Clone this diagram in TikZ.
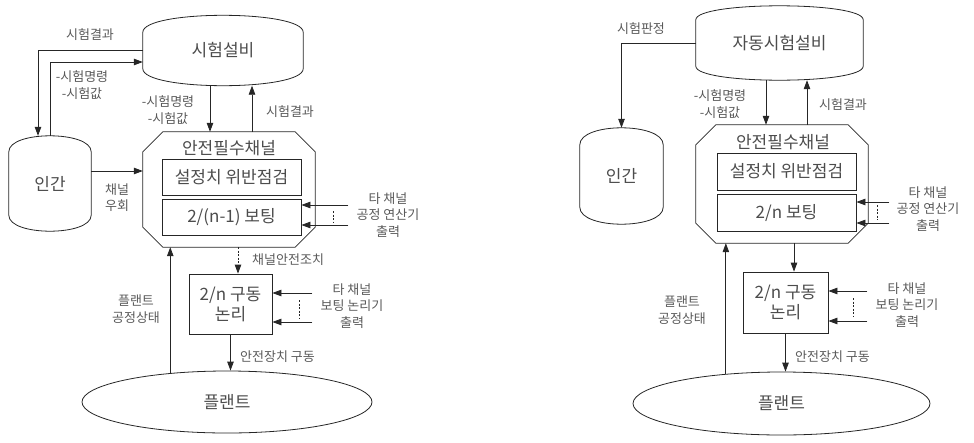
\documentclass[tikz,border=0pt]{standalone}
\usepackage{fontspec}
\setmainfont{Noto Sans CJK KR}
\usetikzlibrary{arrows.meta}
\usetikzlibrary{shapes.geometric}

\newcommand\bigtext{\fontsize{17}{20}\selectfont}
\newcommand\smalltext{\fontsize{13}{16.5}\selectfont}
% outline of a drum: straight sides, bulging top and bottom
\newcommand\drumline[2]{%
  \draw[line] ([yshift=-#2pt]#1.north west) .. controls ([yshift={#2pt/3}]#1.north west) and ([yshift={#2pt/3}]#1.north east) .. ([yshift=-#2pt]#1.north east)
    -- ([yshift=#2pt]#1.south east) .. controls ([yshift={-#2pt/3}]#1.south east) and ([yshift={-#2pt/3}]#1.south west) .. ([yshift=#2pt]#1.south west) -- cycle;}
% outline of the channel: box with cut corners
\newcommand\octline[2]{%
  \draw[line] ([xshift=#2pt]#1.north west) -- ([xshift=-#2pt]#1.north east) -- ([yshift=-#2pt]#1.north east)
    -- ([yshift=#2pt]#1.south east) -- ([xshift=-#2pt]#1.south east) -- ([xshift=#2pt]#1.south west)
    -- ([yshift=#2pt]#1.south west) -- ([yshift=-#2pt]#1.north west) -- cycle;}

\tikzset{
  line/.style={draw=black!85, line width=0.8pt},
  arr/.style={line, -{Triangle[length=9pt,width=6.5pt]}},
  dots/.style={line, dash pattern=on 2pt off 1.5pt},
  box/.style={line, rectangle, inner sep=0pt, text=black!70, font=\bigtext, align=center},
  drum/.style={rectangle, inner sep=0pt, text=black!70, font=\bigtext},
  chanbox/.style={rectangle, inner sep=0pt},
  plantshape/.style={line, ellipse, inner sep=0pt, text=black!70, font=\bigtext},
  lbl/.style={text=black!65, font=\smalltext, align=center, inner sep=0pt},
}

\begin{document}
\begin{tikzpicture}[x=1pt,y=-1pt]
\useasboundingbox (0,0) rectangle (974,442);

% left: manual test
\node[drum, minimum width=160pt, minimum height=70pt] (eq) at (223,50.5) {시험설비};
\node[drum, minimum width=82pt, minimum height=95pt] (human) at (50,183.5) {인간};
\node[chanbox, minimum width=172pt, minimum height=115pt] (chan) at (229,189.5) {};
\node[lbl, font=\bigtext, text=black!70] (chanlbl) at (229,148) {안전필수채널};
\node[box, minimum width=139pt, minimum height=36pt] (check) at (231.5,177) {설정치 위반점검};
\node[box, minimum width=139pt, minimum height=36pt] (vote) at (231.5,217) {2/(n-1) 보팅};
\node[box, minimum width=83pt, minimum height=60pt] (act) at (230.5,304) {2/n 구동\\논리};
\node[plantshape, minimum width=290pt, minimum height=62pt] (plant) at (227,402) {플랜트};
\drumline{eq}{17}
\drumline{human}{16}
\octline{chan}{20}

\node[lbl] (lres) at (90,35) {시험결과};
\node[lbl] (lcmd) at (82,85) {-시험명령\\-시험값};
\node[lbl] (ldn) at (168,110) {-시험명령\\-시험값};
\node[lbl] (lup) at (290,112) {시험결과};
\node[lbl] (lbyp) at (117,197.5) {채널\\우회};
\node[lbl] (lvin) at (388,215) {타 채널\\공정 연산기\\출력};
\node[lbl, anchor=west] (lsafe) at (252,260) {채널안전조치};
\node[lbl] (lain) at (352,306) {타 채널\\보팅 논리기\\출력};
\node[lbl, anchor=west] (ldrv) at (240,357) {안전장치 구동};
\node[lbl] (lpst) at (136,309) {플랜트\\공정상태};

\draw[arr] (eq.west) -| ([xshift=-12pt]human.north);
\coordinate (eqcmd) at ([yshift=-11.5pt]eq.west);
\draw[arr] (human.north) |- (eqcmd);
\coordinate (eqdn) at ([xshift=-13pt]eq.south);
\draw[arr] (eqdn) -- (eqdn |- chan.north);
\coordinate (equp) at ([xshift=29pt]eq.south);
\draw[arr] (equp |- chan.north) -- (equp);
\coordinate (byp) at ([yshift=12.5pt]human.east);
\draw[arr] (byp) -- (byp -| chan.west);
\coordinate (vin1) at ([yshift=12pt]vote.east);
\coordinate (vin2) at ([yshift=-8pt]vote.east);
\draw[arr] ([xshift=47pt]vin1) -- (vin1);
\draw[arr] ([xshift=47pt]vin2) -- (vin2);
\draw[dots] ([xshift=32pt,yshift=-6pt]vin1) -- ([xshift=32pt,yshift=3pt]vin2);
\coordinate (safe) at ([xshift=7.5pt]act.north);
\draw[arr, dash pattern=on 2pt off 1.5pt] (safe |- chan.south) -- (safe);
\coordinate (ain1) at ([yshift=11pt]act.east);
\coordinate (ain2) at ([yshift=-18pt]act.east);
\draw[arr] ([xshift=40pt]ain1) -- (ain1);
\draw[arr] ([xshift=40pt]ain2) -- (ain2);
\draw[dots] ([xshift=27pt,yshift=-7pt]ain1) -- ([xshift=27pt,yshift=4pt]ain2);
\draw[arr] (act.south) -- (act.south |- plant.north);
\draw[arr] (plant.153) -- (plant.153 |- chan.south);

% right: automatic test
\node[drum, minimum width=167pt, minimum height=74pt] (aeq) at (779.5,43) {자동시험설비};
\node[drum, minimum width=83pt, minimum height=96pt] (ahuman) at (621.5,176) {인간};
\node[chanbox, minimum width=172pt, minimum height=118pt] (achan) at (782,184) {};
\node[lbl, font=\bigtext, text=black!70] (achanlbl) at (783,142) {안전필수채널};
\node[box, minimum width=139pt, minimum height=37pt] (acheck) at (786.5,171.5) {설정치 위반점검};
\node[box, minimum width=139pt, minimum height=37pt] (avote) at (786.5,213) {2/n 보팅};
\node[box, minimum width=85pt, minimum height=61pt] (aact) at (785.5,302.5) {2/n 구동\\논리};
\node[plantshape, minimum width=297pt, minimum height=63pt] (aplant) at (781.5,403.5) {플랜트};
\drumline{aeq}{14}
\drumline{ahuman}{17}
\octline{achan}{20}

\node[lbl] (ajdg) at (641,29) {시험판정};
\node[lbl] (acmd) at (720,104) {-시험명령\\-시험값};
\node[lbl] (aup) at (843,105) {시험결과};
\node[lbl] (avin) at (928,209) {타 채널\\공정 연산기\\출력};
\node[lbl] (aain) at (907,305) {타 채널\\보팅 논리기\\출력};
\node[lbl, anchor=west] (adrv) at (795,357) {안전장치 구동};
\node[lbl] (apst) at (682,310) {플랜트\\공정상태};

\draw[arr] (aeq.west) -| (ahuman.north);
\coordinate (aeqdn) at ([xshift=-13.5pt]aeq.south);
\draw[arr] (aeqdn) -- (aeqdn |- achan.north);
\coordinate (aequp) at ([xshift=27.5pt]aeq.south);
\draw[arr] (aequp |- achan.north) -- (aequp);
\coordinate (avin1) at ([yshift=11pt]avote.east);
\coordinate (avin2) at ([yshift=-10pt]avote.east);
\draw[arr] ([xshift=33pt]avin1) -- (avin1);
\draw[arr] ([xshift=33pt]avin2) -- (avin2);
\draw[dots] ([xshift=21pt,yshift=-3pt]avin1) -- ([xshift=21pt,yshift=3pt]avin2);
\coordinate (asafe) at ([xshift=8.5pt]aact.north);
\draw[arr] (asafe |- achan.south) -- (asafe);
\coordinate (aain1) at ([yshift=11.5pt]aact.east);
\coordinate (aain2) at ([yshift=-18.5pt]aact.east);
\draw[arr] ([xshift=39pt]aain1) -- (aain1);
\draw[arr] ([xshift=39pt]aain2) -- (aain2);
\draw[dots] ([xshift=25pt,yshift=-7pt]aain1) -- ([xshift=25pt,yshift=4pt]aain2);
\draw[arr] (aact.south) -- (aact.south |- aplant.north);
\draw[arr] (aplant.152) -- (aplant.152 |- achan.south);
\end{tikzpicture}
\end{document}
